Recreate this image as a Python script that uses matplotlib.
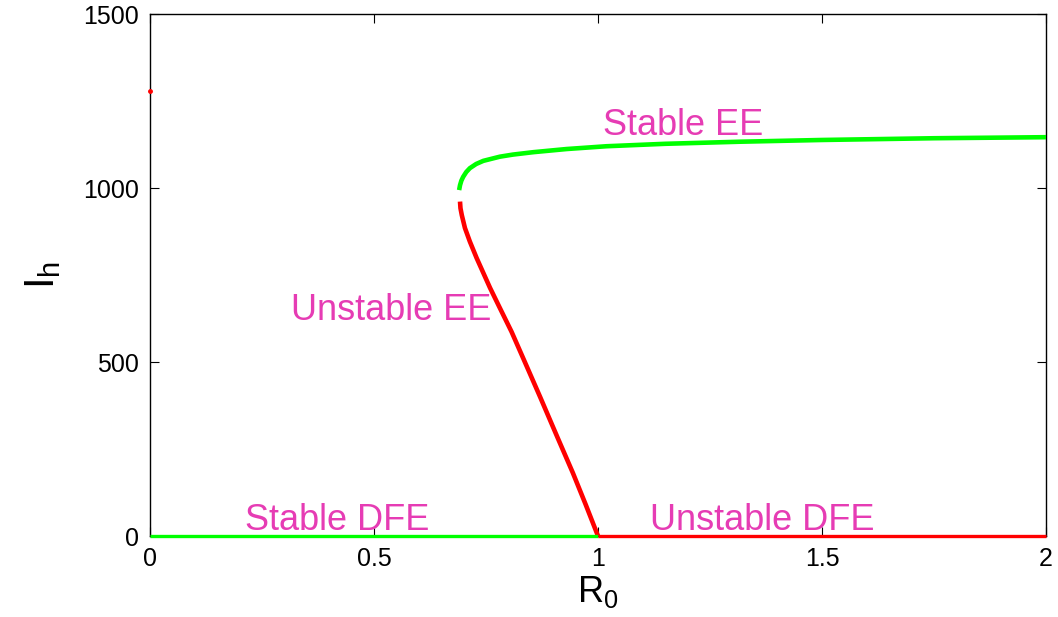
import matplotlib
matplotlib.use("Agg")
import matplotlib.pyplot as plt

plt.rcParams['font.family'] = ['Liberation Sans', 'DejaVu Sans']
plt.rcParams['mathtext.fontset'] = 'custom'
plt.rcParams['mathtext.rm'] = 'Liberation Sans'
plt.rcParams['mathtext.it'] = 'Liberation Sans'

# ---- data ----
stable_ee_r0 = [0.690, 0.692, 0.695, 0.699, 0.706, 0.714, 0.728, 0.744, 0.781,
                0.810, 0.856, 0.930, 1.019, 1.150, 1.317, 1.500, 1.750, 2.000]
stable_ee_ih = [994, 1008, 1021, 1032, 1046, 1057, 1069, 1078, 1090,
                1096, 1103, 1112, 1120, 1127, 1133, 1138, 1143, 1146]

unstable_ee_r0 = [0.692, 0.693, 0.696, 0.703, 0.714, 0.729, 0.744, 0.759, 0.781,
                  0.807, 0.835, 0.871, 0.910, 0.944, 0.972, 1.000]
unstable_ee_ih = [961, 942, 922, 885, 846, 799, 756, 713, 655,
                  587, 505, 399, 282, 181, 92, 0]

stable_dfe_r0 = [0.0, 1.0]
stable_dfe_ih = [0, 0]
unstable_dfe_r0 = [1.0, 2.0]
unstable_dfe_ih = [0, 0]

point_r0 = [0.0]
point_ih = [1279]

labels = ["Stable EE", "Unstable EE", "Stable DFE", "Unstable DFE"]
label_r0 = [1.190, 0.539, 0.417, 1.367]
label_ih = [1152, 621, 17, 17]

xticks = [0, 0.5, 1, 1.5, 2]
xticklabels = ["0", "0.5", "1", "1.5", "2"]
yticks = [0, 500, 1000, 1500]
yticklabels = ["0", "500", "1000", "1500"]

green = "#00FF00"
red = "#FF0000"
txt_color = "#E63CB4"

fig = plt.figure(figsize=(10.58, 6.17), dpi=100)
ax = fig.add_axes([150/1058, 81/617, 896/1058, 522/617])

ax.plot(stable_dfe_r0, stable_dfe_ih, color=green, lw=2.4, clip_on=False,
        solid_capstyle='butt', zorder=4)
ax.plot(unstable_dfe_r0, unstable_dfe_ih, color=red, lw=2.4, clip_on=False,
        solid_capstyle='butt', zorder=4)
ax.plot(stable_ee_r0, stable_ee_ih, color=green, lw=3.3, solid_capstyle='butt',
        solid_joinstyle='round', zorder=3)
ax.plot(unstable_ee_r0, unstable_ee_ih, color=red, lw=3.3, solid_capstyle='butt',
        solid_joinstyle='round', zorder=3)
ax.plot(point_r0, point_ih, 'o', color=red, ms=2.5, clip_on=False, zorder=5)

for s, x, y in zip(labels, label_r0, label_ih):
    ax.text(x, y, s, color=txt_color, fontsize=26, ha='center', va='baseline')

ax.set_xlim(0, 2)
ax.set_ylim(0, 1500)
ax.set_xticks(xticks)
ax.set_xticklabels(xticklabels)
ax.set_yticks(yticks)
ax.set_yticklabels(yticklabels)
ax.tick_params(direction='in', length=6.5, width=0.8, labelsize=18,
               top=True, right=True, pad=8)
for sp in ax.spines.values():
    sp.set_linewidth(1.0)

ax.set_xlabel(r'$\mathrm{R_0}$', fontsize=26, labelpad=2)
ax.set_ylabel(r'$\mathrm{I_h}$', fontsize=30, labelpad=14)

fig.savefig("out.png", dpi=100)
